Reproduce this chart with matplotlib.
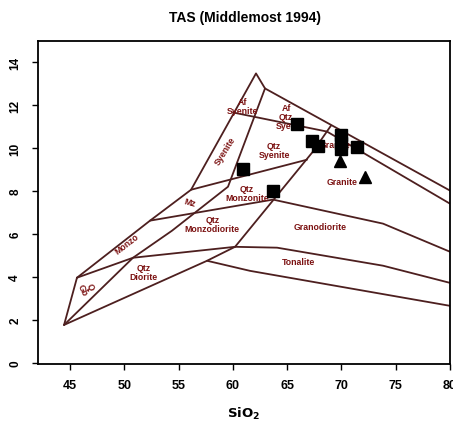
import matplotlib
matplotlib.use('Agg')
import matplotlib.pyplot as plt

plt.rcParams['font.family'] = ['Liberation Sans', 'DejaVu Sans']

# ---------------- data ----------------
title = "TAS (Middlemost 1994)"
x_ticks = [45, 50, 55, 60, 65, 70, 75, 80]
y_ticks = [0, 2, 4, 6, 8, 10, 12, 14]

# samples (SiO2, Na2O+K2O)
square_sio2 = [65.9, 67.3, 67.8, 70.0, 70.0, 70.0, 71.4, 60.9, 63.7]
square_alk = [11.15, 10.36, 10.13, 10.6, 10.25, 9.95, 10.08, 9.05, 8.0]
triangle_sio2 = [69.9, 72.2]
triangle_alk = [9.43, 8.66]

# classification boundaries (SiO2 list, alkali list)
left_edge_x = [44.45, 45.64]
left_edge_y = [1.77, 3.97]
outer_x = [45.64, 52.37, 56.15, 62.13, 62.96, 80.0]
outer_y = [3.97, 6.63, 8.07, 13.49, 12.79, 8.03]
inner_x = [44.45, 50.80, 54.39, 59.55, 62.96]
inner_y = [1.77, 4.90, 6.16, 8.21, 12.79]
cross1_x = [45.64, 50.80, 60.20, 64.07, 73.83, 80.0]
cross1_y = [3.97, 4.90, 5.41, 5.37, 4.53, 3.73]
bottom_x = [44.45, 57.62, 60.20]
bottom_y = [1.77, 4.76, 5.41]
tonalite_low_x = [57.62, 61.58, 80.0]
tonalite_low_y = [4.76, 4.29, 2.66]
qline_x = [60.20, 67.38, 69.04]
qline_y = [5.41, 9.85, 11.06]
cross2_x = [52.37, 63.70, 73.83, 80.0]
cross2_y = [6.63, 7.61, 6.49, 5.18]
cross3_x = [56.15, 66.83]
cross3_y = [8.07, 9.47]
cross4_x = [60.01, 68.67, 80.0]
cross4_y = [11.67, 10.78, 7.42]

boundaries = [
    (left_edge_x, left_edge_y), (outer_x, outer_y), (inner_x, inner_y),
    (cross1_x, cross1_y), (bottom_x, bottom_y), (tonalite_low_x, tonalite_low_y),
    (qline_x, qline_y), (cross2_x, cross2_y), (cross3_x, cross3_y),
    (cross4_x, cross4_y),
]

# field labels: text, SiO2, alkali, rotation
field_text = ["Af\nSyenite", "Af\nQtz\nSyen", "Syenite", "Qtz\nSyenite", "Mz",
              "Qtz\nMonzonite", "Qtz\nMonzodiorite", "Monzo", "Q\nGb",
              "Qtz\nDiorite", "Granodiorite", "Tonalite", "Granite", "Granite"]
field_x = [60.9, 64.9, 59.3, 63.8, 56.05, 61.3, 58.1, 50.25, 46.5,
           51.8, 68.0, 66.0, 70.05, 69.4]
field_y = [11.95, 11.48, 9.9, 9.94, 7.5, 7.93, 6.49, 5.55, 3.5,
           4.25, 6.35, 4.71, 8.45, 10.17]
field_rot = [0, 0, 58, 0, -15, 0, 0, 38, -65, 0, 0, 0, 0, 0]

# ---------------- plot ----------------
line_color = '#4d1f1f'
label_color = '#7b1111'

fig = plt.figure(figsize=(4.53, 4.39), dpi=100)
ax = fig.add_axes([0.0839, 0.1686, 0.9095, 0.7357])

for bx, by in boundaries:
    ax.plot(bx, by, color=line_color, lw=1.3, solid_capstyle='round',
            solid_joinstyle='round', zorder=2)

for t, x, y, r in zip(field_text, field_x, field_y, field_rot):
    ax.text(x, y, t, color=label_color, fontsize=6.3, fontweight='bold',
            ha='center', va='center', rotation=r, linespacing=1.0, zorder=3)

ax.plot(square_sio2, square_alk, 's', color='black', ms=9, zorder=4)
ax.plot(triangle_sio2, triangle_alk, '^', color='black', ms=9, zorder=4)

ax.set_xlim(42.05, 80.0)
ax.set_ylim(-0.05, 15.0)
ax.set_xticks(x_ticks)
ax.set_xticklabels([str(v) for v in x_ticks], fontsize=9, fontweight='bold')
ax.set_yticks(y_ticks)
ax.set_yticklabels([str(v) for v in y_ticks], fontsize=8.5, fontweight='bold',
                   rotation=90, va='center')
ax.tick_params(axis='x', length=4, width=1, pad=7, direction='out')
ax.tick_params(axis='y', length=4, width=1, pad=8, direction='out')
for s in ax.spines.values():
    s.set_linewidth(1.3)

ax.set_xlabel(r'$\mathbf{SiO_2}$', fontsize=9.5, labelpad=10)
fig.text(0.54, 0.959, title, ha='center', va='center', fontsize=10,
         fontweight='bold')

fig.savefig('out.png', dpi=100)
